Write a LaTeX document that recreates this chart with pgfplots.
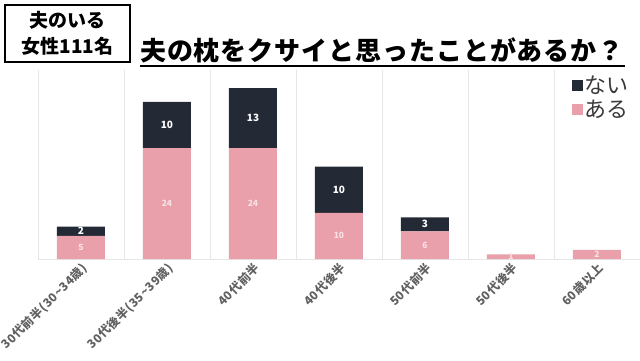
\documentclass[border=0pt]{standalone}
\usepackage{fontspec}
\setmainfont{Noto Sans CJK JP}
\usepackage{pgfplots}
\pgfplotsset{compat=1.18}
\definecolor{pinkb}{HTML}{E9A0AB}
\definecolor{darkb}{HTML}{232A36}
\definecolor{gridc}{HTML}{E6E6E6}
\definecolor{tickc}{HTML}{606060}
\definecolor{legc}{HTML}{3A3A3A}
\definecolor{pinklab}{HTML}{F8E2E6}
\newcommand{\tl}{{\char"7E}}
\begin{document}
\begin{tikzpicture}[x=1pt,y=1pt]
\path[use as bounding box] (0,0) rectangle (640,360);
\begin{axis}[
 at={(38pt,101pt)}, anchor=south west,
 scale only axis, width=602pt, height=189pt,
 ybar stacked, bar width=48pt,
 xmin=-0.5, xmax=6.5, ymin=0, ymax=40.9,
 axis y line=none, axis x line*=bottom,
 x axis line style={draw=gridc, line width=1pt, -},
 xtick={0,...,6},
 xticklabels={30代前半(30\tl 34歳),30代後半(35\tl 39歳),40代前半,40代後半,50代前半,50代後半,60歳以上},
 major tick length=0pt, xtick style={draw=none},
 minor xtick={-0.5,0.5,1.5,2.5,3.5,4.5,5.5},
 minor tick length=0pt,
 xminorgrids, minor grid style={draw=gridc, line width=0.8pt},
 x tick label style={rotate=45, anchor=east, font=\fontsize{12}{14}\selectfont\bfseries\addfontfeature{LetterSpace=4}, text=tickc, inner sep=1pt, yshift=-8pt, xshift=-1pt},
 legend style={at={(rel axis cs:0.99,0.99)}, anchor=north east, draw=none, fill=none,
   font=\fontsize{22}{26}\selectfont, text=legc, row sep=1pt},
 legend image code/.code={\fill[#1] (0pt,-5.5pt) rectangle (11pt,5.5pt);},
 reverse legend,
]
\addplot[fill=pinkb, draw=none] coordinates {(0,5) (1,24) (2,24) (3,10) (4,6) (5,1) (6,2)};
\addplot[fill=darkb, draw=none] coordinates {(0,2) (1,10) (2,13) (3,10) (4,3) (5,0) (6,0)};
\legend{ある,ない}
\end{axis}
\begin{axis}[
 at={(38pt,101pt)}, anchor=south west,
 scale only axis, width=602pt, height=189pt,
 xmin=-0.5, xmax=6.5, ymin=0, ymax=40.9, hide axis, clip=false,
]
\addplot[only marks, mark=none, nodes near coords, point meta=explicit symbolic,
  nodes near coords style={anchor=center, font=\fontsize{8.5}{10}\selectfont\bfseries, text=pinklab}]
  table[meta=l] {
x y l
0 2.5 5
1 12 24
2 12 24
3 5 10
4 3 6
5 0.5 1
6 1 2
};
\addplot[only marks, mark=none, nodes near coords, point meta=explicit symbolic,
  nodes near coords style={anchor=center, font=\fontsize{10}{12}\selectfont\bfseries, text=white}]
  table[meta=l] {
x y l
0 6 2
1 29 10
2 30.5 13
3 15 10
4 7.5 3
};
\end{axis}
\draw[line width=1.5pt] (5,298) rectangle (130,355);
\node[align=center, font=\fontsize{19}{26}\selectfont\bfseries, inner sep=0] at (67.5,327) {夫のいる\\女性111名};
\node[anchor=west, inner sep=0] at (140,310) {\fontsize{26}{30}\selectfont\bfseries\addfontfeature{LetterSpace=3.5}夫の枕をクサイと思ったことがあるか？};
\draw[line width=2pt] (140,294) -- (625,294);
\end{tikzpicture}
\end{document}
